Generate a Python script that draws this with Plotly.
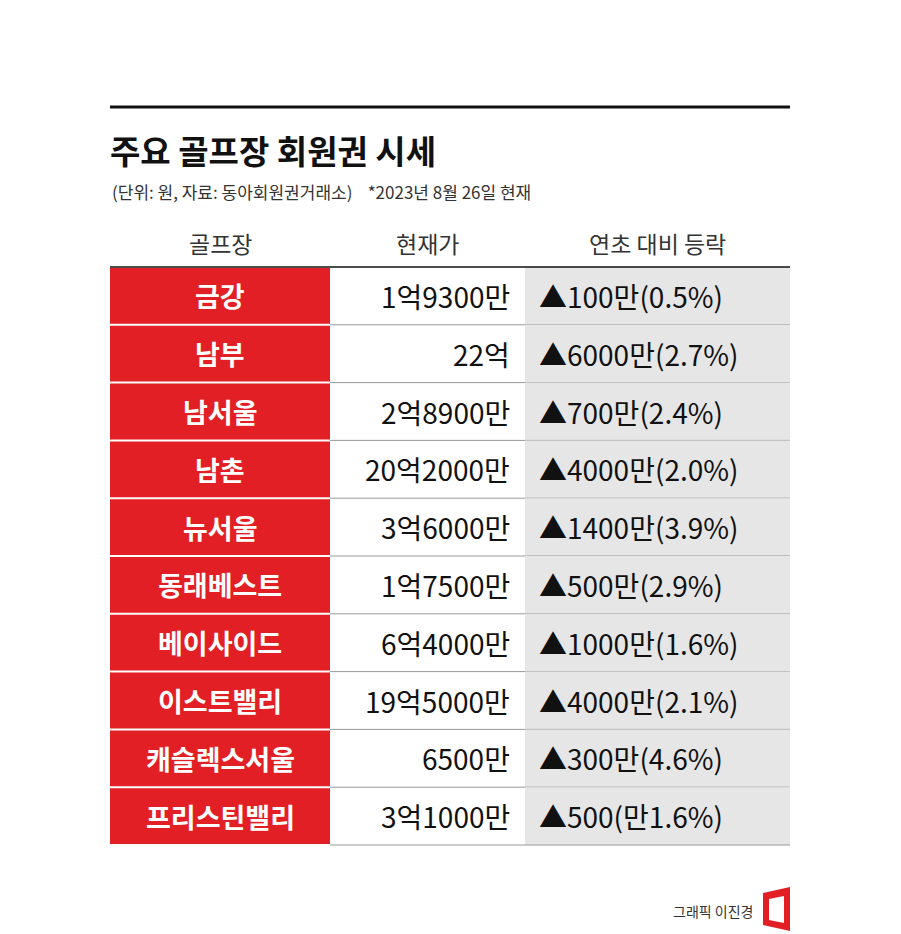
import plotly.graph_objects as go

W, H = 901, 934

clubs = ["금강", "남부", "남서울", "남촌", "뉴서울", "동래베스트", "베이사이드", "이스트밸리", "캐슬렉스서울", "프리스틴밸리"]
prices = ["1억9300만", "22억", "2억8900만", "20억2000만", "3억6000만", "1억7500만", "6억4000만", "19억5000만", "6500만", "3억1000만"]
changes = ["▲100만(0.5%)", "▲6000만(2.7%)", "▲700만(2.4%)", "▲4000만(2.0%)", "▲1400만(3.9%)",
           "▲500만(2.9%)", "▲1000만(1.6%)", "▲4000만(2.1%)", "▲300만(4.6%)", "▲500(만1.6%)"]
headers = ["골프장", "현재가", "연초 대비 등락"]

RED = "#e31f26"
GRAY = "#e6e6e7"
FONT = "Noto Sans CJK KR"
OFF = 8  # page body margin

def py(y):
    return 1 - (y - OFF) / H

def px(x):
    return (x - OFF) / W

X0, X1, X2, X3 = 110, 330, 525, 790
TOP, ROW = 267, 57.8

shapes = [
    dict(type="line", x0=px(X0), x1=px(X3), y0=py(107), y1=py(107), line=dict(color="#111", width=3)),
]
annotations = [
    dict(text="<b>주요 골프장 회원권 시세</b>", x=px(108), y=py(150), xanchor="left",
         font=dict(family=FONT, size=33, color="#111")),
    dict(text="(단위: 원, 자료: 동아회원권거래소)    *2023년 8월 26일 현재", x=px(110), y=py(192),
         xanchor="left", font=dict(family=FONT, size=17, color="#333")),
    dict(text="그래픽 이진경", x=px(755), y=py(911), xanchor="right",
         font=dict(family=FONT, size=14, color="#333")),
]

for h, xc in zip(headers, [(X0 + X1) / 2, (X1 + X2) / 2, (X2 + X3) / 2]):
    annotations.append(dict(text=h, x=px(xc), y=py(243), xanchor="center",
                            font=dict(family=FONT, size=23, color="#333")))

for i in range(len(clubs)):
    y0, y1 = TOP + i * ROW, TOP + (i + 1) * ROW
    yc = (y0 + y1) / 2
    shapes.append(dict(type="rect", x0=px(X0), x1=px(X1), y0=py(y0 + 1), y1=py(y1 - 1),
                       fillcolor=RED, line=dict(width=0)))
    shapes.append(dict(type="rect", x0=px(X2), x1=px(X3), y0=py(y0), y1=py(y1),
                       fillcolor=GRAY, line=dict(width=0)))
    shapes.append(dict(type="line", x0=px(X1), x1=px(X3), y0=py(y1), y1=py(y1),
                       line=dict(color="#999", width=1)))
    annotations.append(dict(text="<b>" + clubs[i] + "</b>", x=px((X0 + X1) / 2), y=py(yc),
                            xanchor="center", font=dict(family=FONT, size=27, color="white")))
    annotations.append(dict(text=prices[i], x=px(512), y=py(yc), xanchor="right",
                            font=dict(family=FONT, size=28, color="#111")))
    annotations.append(dict(text=changes[i], x=px(537), y=py(yc), xanchor="left",
                            font=dict(family=FONT, size=28, color="#111")))

shapes.append(dict(type="line", x0=px(X0), x1=px(X3), y0=py(TOP), y1=py(TOP),
                   line=dict(color="#111", width=1.5)))
shapes.append(dict(type="path",
                   path=f"M {px(763)},{py(893)} L {px(790)},{py(887)} L {px(790)},{py(931)} L {px(763)},{py(925)} Z "
                        f"M {px(769)},{py(899)} L {px(769)},{py(920)} L {px(784)},{py(923)} L {px(784)},{py(896)} Z",
                   fillcolor=RED, line=dict(width=0)))

for s in shapes:
    s.update(xref="paper", yref="paper", layer="below")
for a in annotations:
    a.update(xref="paper", yref="paper", yanchor="middle", showarrow=False)

fig = go.Figure()
fig.update_xaxes(visible=False)
fig.update_yaxes(visible=False)
fig.update_layout(width=W, height=H, margin=dict(l=0, r=0, t=0, b=0),
                  paper_bgcolor="white", plot_bgcolor="white",
                  shapes=shapes, annotations=annotations)
fig.write_html("out.html")
